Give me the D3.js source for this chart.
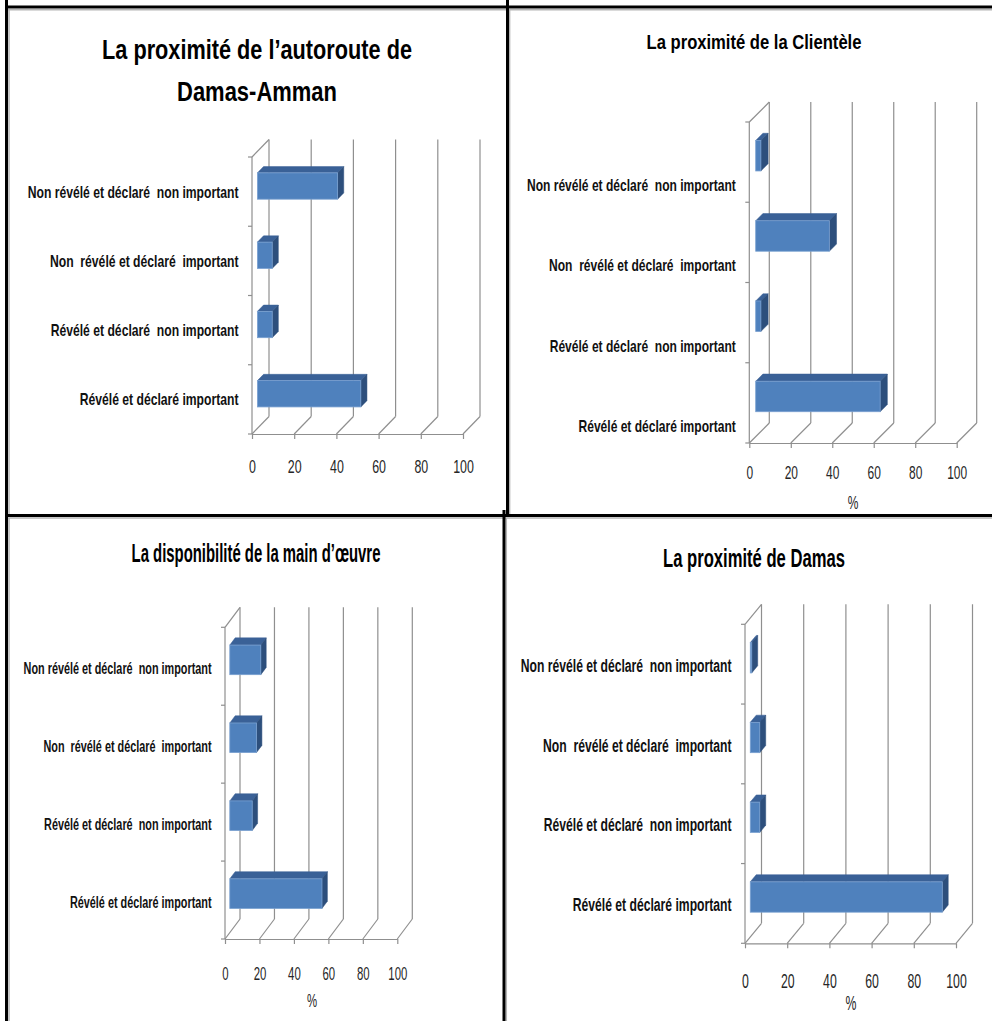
<!DOCTYPE html>
<html><head><meta charset="utf-8">
<script src="https://cdn.jsdelivr.net/npm/d3@7"></script>
<style>body{margin:0;background:#fff} text{white-space:pre}</style>
</head><body><svg id="c" width="992" height="1021"></svg>
<script>
// ---------- DATA ----------
const categories = [
  "Révélé et déclaré important",
  "Révélé et déclaré  non important",
  "Non  révélé et déclaré  important",
  "Non révélé et déclaré  non important"
];
const titleAutoroute = ["La proximité de l’autoroute de", "Damas-Amman"];
const titleClientele = ["La proximité de la Clientèle"];
const titleMainOeuvre = ["La disponibilité de la main d’œuvre"];
const titleDamas = ["La proximité de Damas"];
const valuesAutoroute = [49, 7, 7, 38];
const valuesClientele = [60, 2.5, 35.5, 2.5];
const valuesMainOeuvre = [53.5, 13, 15.5, 18];
const valuesDamas = [91, 4.5, 4.5, 0.7];
const xTicks = [0, 20, 40, 60, 80, 100];
const axisTitle = "%";

// ---------- LAYOUT ----------
const FONT = "'Liberation Sans Narrow','Liberation Sans',Arial,sans-serif";
const panels = [
  {values: valuesAutoroute, title: titleAutoroute, pct: false,
   x0: 252, x1: 463, yTop: 157, yFloor: 434, dx: 17, dy: 17.5,
   titleX: 257, titleY: [58.5, 100.5], titleSize: 28.5, titleW: [310, 160],
   labelSize: 16.5, labelW: 211, labelDy: 0, tickY: 473, tickSize: 18, tickW: 20.7},
  {values: valuesClientele, title: titleClientele, pct: true,
   x0: 749.3, x1: 956.7, yTop: 122, yFloor: 443, dx: 20, dy: 20,
   titleX: 754, titleY: [48.5], titleSize: 21, titleW: [215],
   labelSize: 16.5, labelW: 209, labelDy: 23, tickY: 479, tickSize: 18, tickW: 20, pctX: 853, pctY: 509},
  {values: valuesMainOeuvre, title: titleMainOeuvre, pct: true,
   x0: 225, x1: 397.3, yTop: 627.3, yFloor: 939, dx: 15, dy: 20,
   titleX: 256, titleY: [562], titleSize: 25, titleW: [249],
   labelSize: 17, labelW: 188, labelDy: 2, tickY: 980, tickSize: 18, tickW: 19, pctX: 312, pctY: 1007},
  {values: valuesDamas, title: titleDamas, pct: true,
   x0: 745, x1: 956, yTop: 624.3, yFloor: 943.3, dx: 16.5, dy: 20,
   titleX: 754, titleY: [567], titleSize: 25, titleW: [182],
   labelSize: 18.5, labelW: 211, labelDy: 1, tickY: 988, tickSize: 20, tickW: 20.5, pctX: 851, pctY: 1010}
];
const GRID = "#8f8f8f";
const FRONT = "#4F81BD", TOP = "#3A6197", SIDE = "#2D4F7C";
const BAR_T = 0.38, BAR_D = 0.36;

const svg = d3.select("#c");
svg.append("rect").attr("width", 992).attr("height", 1021).attr("fill", "#fff");
const measureG = svg.append("g").attr("opacity", 0);

function measure(str, size, weight) {
  const t = measureG.append("text").attr("font-family", FONT).attr("font-size", size)
    .attr("font-weight", weight).text(str);
  const w = t.node().getComputedTextLength();
  t.remove();
  return w;
}
function squeeze(g, x, y, str, size, weight, anchor, targetW, sxFixed, fill) {
  const t = g.append("text").attr("font-family", FONT).attr("font-size", size)
    .attr("font-weight", weight).attr("text-anchor", anchor).attr("fill", fill || "#000").text(str);
  const w = t.node().getComputedTextLength();
  const sx = targetW ? targetW / w : sxFixed;
  t.attr("transform", `translate(${x},${y}) scale(${sx},1)`);
  return sx;
}

panels.forEach(p => {
  const g = svg.append("g");
  const x = d3.scaleLinear().domain([0, 100]).range([p.x0, p.x1]);
  const y = d3.scaleBand().domain(categories).range([p.yFloor, p.yTop]).padding(0);
  const bw = y.bandwidth();

  // back wall gridlines & floor diagonals
  xTicks.forEach(v => {
    g.append("line").attr("x1", x(v) + p.dx).attr("y1", p.yTop - p.dy)
      .attr("x2", x(v) + p.dx).attr("y2", p.yFloor - p.dy)
      .attr("stroke", GRID).attr("stroke-width", 1.2);
    g.append("line").attr("x1", x(v)).attr("y1", p.yFloor)
      .attr("x2", x(v) + p.dx).attr("y2", p.yFloor - p.dy)
      .attr("stroke", GRID).attr("stroke-width", 1.2);
  });
  // left side wall
  g.append("line").attr("x1", p.x0).attr("y1", p.yTop).attr("x2", p.x0).attr("y2", p.yFloor)
    .attr("stroke", GRID).attr("stroke-width", 1.2);
  g.append("line").attr("x1", p.x0).attr("y1", p.yTop).attr("x2", p.x0 + p.dx).attr("y2", p.yTop - p.dy)
    .attr("stroke", GRID).attr("stroke-width", 1.2);
  // category ticks at band boundaries
  const bounds = categories.map(c => y(c)).concat([p.yFloor]);
  bounds.forEach(b => {
    g.append("line").attr("x1", p.x0 - 4).attr("y1", b).attr("x2", p.x0).attr("y2", b)
      .attr("stroke", GRID).attr("stroke-width", 1.2);
  });

  // bars
  const bdx = p.dx * BAR_D, bdy = p.dy * BAR_D;
  const ox = (p.dx - bdx) / 2, oy = (p.dy - bdy) / 2;
  const bars = g.selectAll("g.bar").data(p.values.map((v, i) => ({v, c: categories[i]})))
    .enter().append("g").attr("class", "bar");
  bars.each(function(d) {
    const bg = d3.select(this);
    const xl = x(0) + ox, xr = x(d.v) + ox;
    const yc = y(d.c) + bw / 2 - oy;
    const h = bw * BAR_T;
    const yt = yc - h / 2, yb = yc + h / 2;
    bg.append("polygon").attr("points", [[xl, yt], [xr, yt], [xr + bdx, yt - bdy], [xl + bdx, yt - bdy]].join(" "))
      .attr("fill", TOP).attr("stroke", TOP).attr("stroke-width", 0.5);
    bg.append("polygon").attr("points", [[xr, yt], [xr + bdx, yt - bdy], [xr + bdx, yb - bdy], [xr, yb]].join(" "))
      .attr("fill", SIDE).attr("stroke", SIDE).attr("stroke-width", 0.5);
    bg.append("rect").attr("x", xl).attr("y", yt).attr("width", Math.max(0, xr - xl)).attr("height", h)
      .attr("fill", FRONT).attr("stroke", "#79a0d0").attr("stroke-width", 0.8);
  });

  // x axis (front floor edge)
  const tsx = p.tickW / measure("100", p.tickSize, "normal");
  const ax = g.append("g").attr("transform", `translate(0,${p.yFloor})`)
    .call(d3.axisBottom(x).tickValues(xTicks).tickSize(5).tickSizeOuter(0));
  ax.select(".domain").attr("stroke", GRID).attr("stroke-width", 1.2);
  ax.selectAll(".tick line").attr("stroke", GRID).attr("stroke-width", 1.2);
  ax.selectAll(".tick text").attr("font-family", FONT).attr("font-size", p.tickSize)
    .attr("font-weight", "normal").attr("fill", "#262626")
    .attr("y", p.tickY - p.yFloor).attr("dy", 0).attr("transform", `scale(${tsx},1)`);

  // category labels
  const lsx = p.labelW / measure(categories[3], p.labelSize, "bold");
  categories.forEach(c => {
    squeeze(g, p.x0 - 13.5, y(c) + bw / 2 + p.labelDy + p.labelSize * 0.36, c,
      p.labelSize, "bold", "end", null, lsx, "#111");
  });

  // title
  p.title.forEach((t, i) => squeeze(g, p.titleX, p.titleY[i], t, p.titleSize, "bold", "middle", p.titleW[i]));

  if (p.pct) squeeze(g, p.pctX, p.pctY, axisTitle, p.tickSize, "normal", "middle", null, tsx, "#262626");
});

// frame lines
const black = [[5, 7, 992, 7], [6.5, 0, 6.5, 1021], [5, 515.5, 992, 515.5], [507.5, 0, 507.5, 515], [504, 510, 504, 1021]];
const grey = [[8, 9.7, 506, 9.7], [509, 9.7, 992, 9.7], [9, 9, 9, 514], [509.6, 9, 509.6, 514], [8, 518, 992, 518], [9, 518, 9, 1021], [506.3, 518, 506.3, 1021]];
grey.forEach(l => svg.append("line").attr("x1", l[0]).attr("y1", l[1]).attr("x2", l[2]).attr("y2", l[3])
  .attr("stroke", "#b5b5b5").attr("stroke-width", 1.5));
black.forEach(l => svg.append("line").attr("x1", l[0]).attr("y1", l[1]).attr("x2", l[2]).attr("y2", l[3])
  .attr("stroke", "#000").attr("stroke-width", 3));
</script></body></html>
